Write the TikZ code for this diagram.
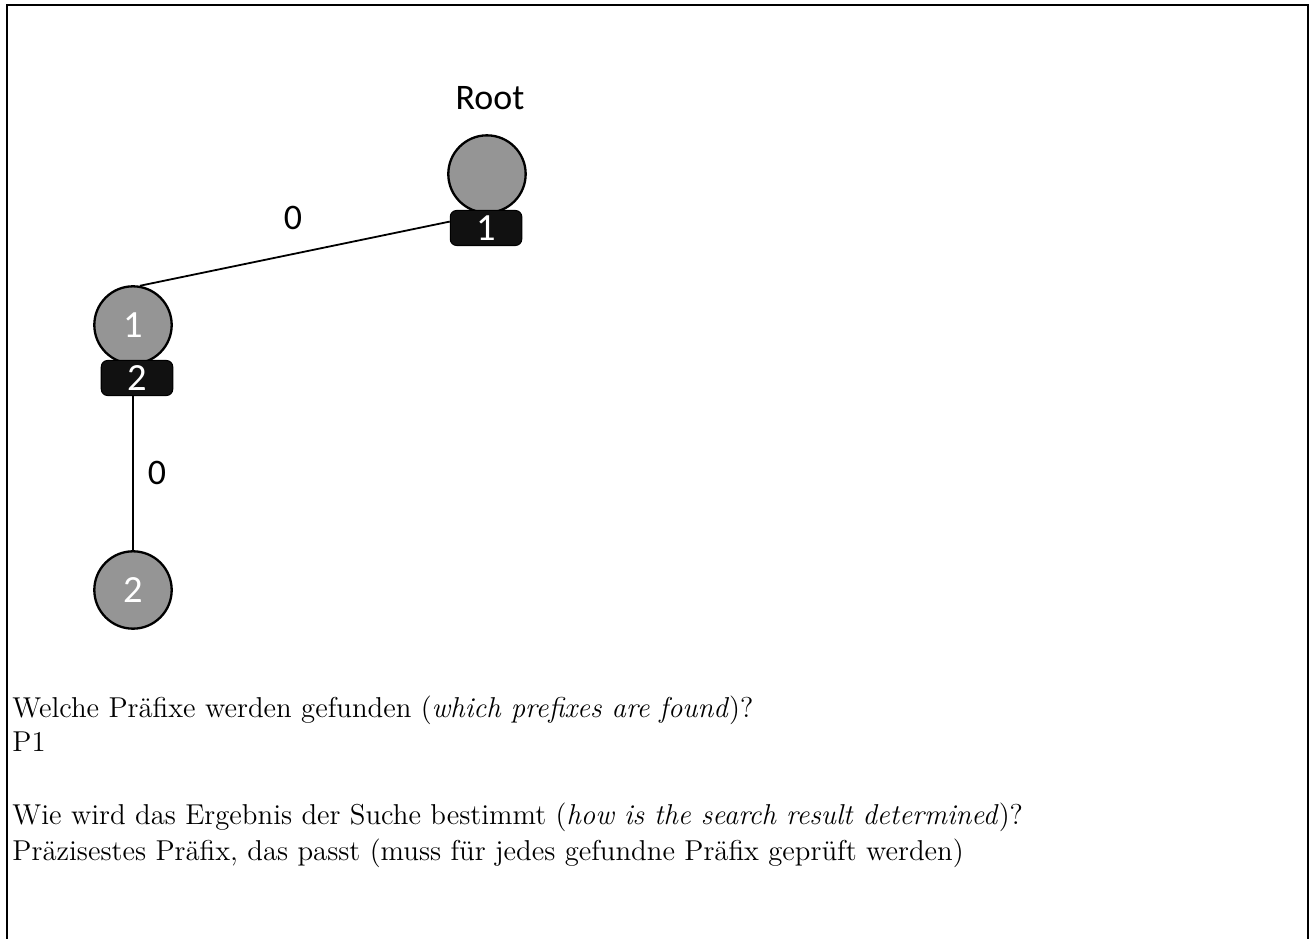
\documentclass[tikz,border=0pt]{standalone}
\usepackage{fontspec}
\newfontfamily\triefont{Carlito}
\definecolor{NodeGray}{HTML}{959595}
\definecolor{TagBlack}{HTML}{111111}
\tikzset{
  trienode/.style={circle, draw=black, line width=0.9pt, fill=NodeGray, minimum size=1.06cm, inner sep=0pt, font=\triefont\fontsize{15}{15}\selectfont, text=white},
  trietag/.style={rectangle, rounded corners=2.5pt, draw=black, fill=TagBlack, minimum width=0.98cm, minimum height=0.48cm, inner sep=0pt, font=\triefont\fontsize{15}{15}\selectfont, text=white},
  edgelab/.style={font=\triefont\fontsize{14}{14}\selectfont},
  trieedge/.style={line width=0.7pt},
  qline/.style={anchor=base west, inner sep=0pt, font=\fontsize{11.2}{13.6}\selectfont},
}
\begin{document}
\begin{tikzpicture}
    \useasboundingbox (0,0) rectangle (18.0,-12.863);
    % open frame
    \draw[line width=0.8pt] (0.096,-12.863) |- (17.918,-0.068) -- (17.918,-12.863);
    % tree
    \node[edgelab] (rootlab) at (6.712,-1.342) {Root};
    \node[trienode] (root) at (6.671,-2.384) {};
    \node[trienode] (n1) at (1.822,-4.452) {1};
    \node[trienode] (n2) at (1.822,-8.082) {2};
    \node[trietag] (roottag) at (6.658,-3.123) {1};
    \node[trietag] (n1tag) at (1.877,-5.178) {2};
    \draw[trieedge] (roottag.170) -- (n1.80);
    \draw[trieedge] (n1tag.south -| n1) -- (n2.north);
    \node[edgelab] (lab1) at (4.014,-2.98) {0};
    \node[edgelab] (lab2) at (2.151,-6.479) {0};
    % questions below the tree
    \node[qline] (q1) at (0.164,-9.822) {Welche Präfixe werden gefunden (\textit{which prefixes are found})?};
    \node[qline] (a1) at (0.164,-10.301) {P1};
    \node[qline] (q2) at (0.164,-11.288) {Wie wird das Ergebnis der Suche bestimmt (\textit{how is the search result determined})?};
    \node[qline] (a2) at (0.164,-11.781) {Präzisestes Präfix, das passt (muss für jedes gefundne Präfix geprüft werden)};
\end{tikzpicture}
\end{document}
